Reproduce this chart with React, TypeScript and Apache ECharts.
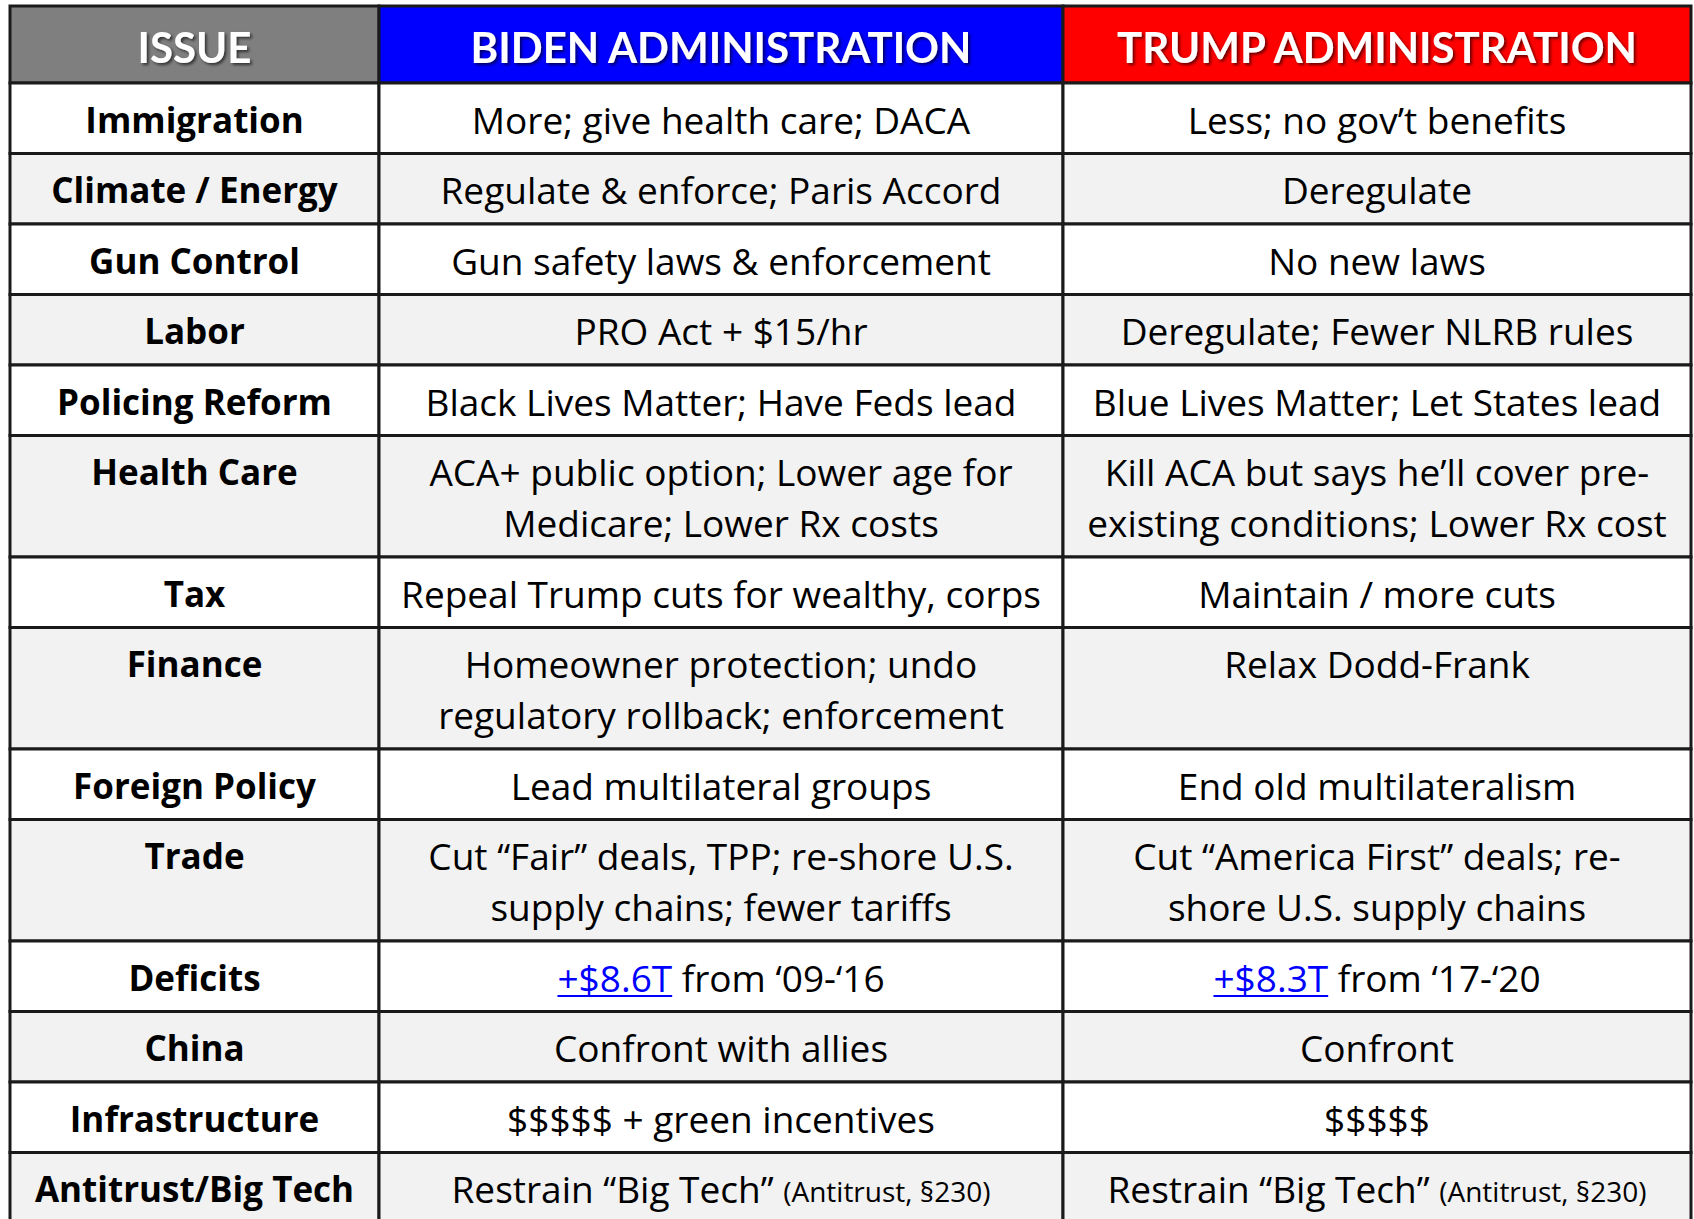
import React, { useEffect, useRef } from "react";
import * as echarts from "echarts";

// ---------- DATA ----------
const headers = ["ISSUE", "BIDEN ADMINISTRATION", "TRUMP ADMINISTRATION"];
const issues = [
  "Immigration",
  "Climate / Energy",
  "Gun Control",
  "Labor",
  "Policing Reform",
  "Health Care",
  "Tax",
  "Finance",
  "Foreign Policy",
  "Trade",
  "Deficits",
  "China",
  "Infrastructure",
  "Antitrust/Big Tech",
];
const bidenPositions = [
  "More; give health care; DACA",
  "Regulate & enforce; Paris Accord",
  "Gun safety laws & enforcement",
  "PRO Act + $15/hr",
  "Black Lives Matter; Have Feds lead",
  "ACA+ public option; Lower age for\nMedicare; Lower Rx costs",
  "Repeal Trump cuts for wealthy, corps",
  "Homeowner protection; undo\nregulatory rollback; enforcement",
  "Lead multilateral groups",
  "Cut \u201cFair\u201d deals, TPP; re-shore U.S.\nsupply chains; fewer tariffs",
  "{link|+$8.6T} from \u201809-\u201816",
  "Confront with allies",
  "$$$$$ + green incentives",
  "Restrain \u201cBig Tech\u201d {small|(Antitrust, \u00a7230)}",
];
const trumpPositions = [
  "Less; no gov\u2019t benefits",
  "Deregulate",
  "No new laws",
  "Deregulate; Fewer NLRB rules",
  "Blue Lives Matter; Let States lead",
  "Kill ACA but says he\u2019ll cover pre-\nexisting conditions; Lower Rx cost",
  "Maintain / more cuts",
  "Relax Dodd-Frank",
  "End old multilateralism",
  "Cut \u201cAmerica First\u201d deals; re-\nshore U.S. supply chains",
  "{link|+$8.3T} from \u201817-\u201820",
  "Confront",
  "$$$$$",
  "Restrain \u201cBig Tech\u201d {small|(Antitrust, \u00a7230)}",
];

// ---------- LAYOUT / STYLE ----------
const W = 1694;
const H = 1219;
const TABLE_LEFT = 10;
const TABLE_TOP = 6;
const COL_WIDTHS = [369, 684, 628];
const HEADER_H = 77;
const ROW_H = 70.5;
const LINE_STEP = 51;
const FIRST_LINE = 36;
const HEADER_MID = 41;
const HEADER_FONT = "Lato, 'Noto Sans', sans-serif";
const FONT = "'Open Sans', 'Noto Sans', sans-serif";
const LABEL_SIZE = 35;
const BODY_SIZE = 37;
const SMALL_SIZE = 28;
const HEADER_SIZE = 42;
const HEADER_FILLS = ["#7f7f7f", "#0000ff", "#ff0000"];
const ROW_FILLS = ["#ffffff", "#f2f2f2"];
const BORDER = "#1a1a1a";
const LINK = "#0000ff";

type Seg = { text: string; kind: string };

function parseLine(line: string): Seg[] {
  const segs: Seg[] = [];
  const re = /\{(\w+)\|([^}]*)\}/g;
  let last = 0;
  let m: RegExpExecArray | null;
  while ((m = re.exec(line))) {
    if (m.index > last) segs.push({ text: line.slice(last, m.index), kind: "plain" });
    segs.push({ text: m[2], kind: m[1] });
    last = m.index + m[0].length;
  }
  if (last < line.length) segs.push({ text: line.slice(last), kind: "plain" });
  return segs;
}

export default function App() {
  const ref = useRef<HTMLDivElement>(null);

  useEffect(() => {
    document.body.style.margin = "0";
    const el = ref.current!;
    const chart = echarts.init(el, null, { renderer: "svg" });

    const canvas = document.createElement("canvas");
    const ctx = canvas.getContext("2d")!;
    const measure = (text: string, font: string) => {
      ctx.font = font;
      return ctx.measureText(text).width;
    };

    const colStarts: number[] = [];
    COL_WIDTHS.reduce((acc, w, i) => {
      colStarts[i] = acc;
      return acc + w;
    }, 0);
    const tableWidth = COL_WIDTHS.reduce((a, b) => a + b, 0);

    const rowHeights: number[] = [HEADER_H];
    issues.forEach((_, i) => {
      const n = Math.max(
        issues[i].split("\n").length,
        bidenPositions[i].split("\n").length,
        trumpPositions[i].split("\n").length
      );
      rowHeights.push(ROW_H + (n - 1) * LINE_STEP);
    });
    const rowTops: number[] = [];
    rowHeights.reduce((acc, h, i) => {
      rowTops[i] = acc;
      return acc + h;
    }, 0);

    const cells: number[][] = [];
    for (let r = 0; r <= issues.length; r++) {
      for (let c = 0; c < 3; c++) cells.push([c, r]);
    }

    const cellText = (c: number, r: number) => {
      if (r === 0) return headers[c];
      if (c === 0) return issues[r - 1];
      if (c === 1) return bidenPositions[r - 1];
      return trumpPositions[r - 1];
    };

    const renderItem = (params: any, api: any) => {
      const c = api.value(0);
      const r = api.value(1);
      const x0 = colStarts[c];
      const y0 = rowTops[r];
      const p0 = api.coord([x0, y0]);
      const p1 = api.coord([x0 + COL_WIDTHS[c], y0 + rowHeights[r]]);
      const isHeader = r === 0;
      const fill = isHeader ? HEADER_FILLS[c] : ROW_FILLS[(r - 1) % 2];
      const children: any[] = [
        {
          type: "rect",
          shape: { x: p0[0], y: p0[1], width: p1[0] - p0[0], height: p1[1] - p0[1] },
          style: { fill, stroke: BORDER, lineWidth: 3 },
        },
      ];
      const cx = (p0[0] + p1[0]) / 2;
      const text = cellText(c, r);
      if (isHeader) {
        children.push({
          type: "text",
          x: cx,
          y: p0[1] + HEADER_MID,
          style: {
            text,
            fill: "#ffffff",
            font: `bold ${HEADER_SIZE}px ${HEADER_FONT}`,
            textAlign: "center",
            textVerticalAlign: "middle",
            textShadowColor: "rgba(0,0,0,0.6)",
            textShadowBlur: 3,
            textShadowOffsetX: 2,
            textShadowOffsetY: 2,
          },
        });
      } else {
        const weight = c === 0 ? "bold" : "normal";
        const mainSize = c === 0 ? LABEL_SIZE : BODY_SIZE;
        text.split("\n").forEach((line, li) => {
          const y = p0[1] + FIRST_LINE + li * LINE_STEP;
          const segs = parseLine(line);
          const sizes = segs.map((s) => (s.kind === "small" ? SMALL_SIZE : mainSize));
          const fonts = segs.map((s, i) => `${weight} ${sizes[i]}px ${FONT}`);
          const widths = segs.map((s, i) => measure(s.text, fonts[i]));
          const total = widths.reduce((a, b) => a + b, 0);
          let x = cx - total / 2;
          segs.forEach((s, i) => {
            const dy = (mainSize - sizes[i]) * 0.3;
            children.push({
              type: "text",
              x,
              y: y + dy,
              style: {
                text: s.text,
                fill: s.kind === "link" ? LINK : "#000000",
                font: fonts[i],
                textAlign: "left",
                textVerticalAlign: "middle",
              },
            });
            if (s.kind === "link") {
              children.push({
                type: "line",
                shape: { x1: x, y1: y + 19, x2: x + widths[i], y2: y + 19 },
                style: { stroke: LINK, lineWidth: 2 },
              });
            }
            x += widths[i];
          });
        });
      }
      return { type: "group", children };
    };

    chart.setOption({
      animation: false,
      backgroundColor: "#ffffff",
      grid: {
        left: TABLE_LEFT,
        top: TABLE_TOP,
        width: tableWidth,
        height: H - TABLE_TOP,
        containLabel: false,
      },
      xAxis: { type: "value", min: 0, max: tableWidth, show: false },
      yAxis: { type: "value", min: 0, max: H - TABLE_TOP, inverse: true, show: false },
      series: [
        {
          type: "custom",
          renderItem,
          data: cells,
          clip: false,
          silent: true,
        },
      ],
    });

    return () => chart.dispose();
  }, []);

  return <div ref={ref} style={{ width: W, height: H }} />;
}
